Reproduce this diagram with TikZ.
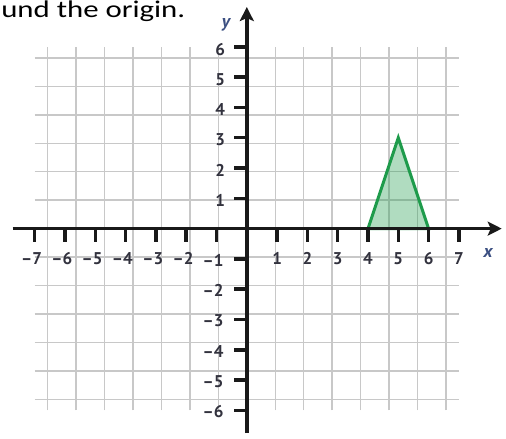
\documentclass[tikz,border=0pt]{standalone}
\usepackage{fontspec}
\setmainfont{Carlito}
\newfontfamily\lblfont{PT Sans}
\usetikzlibrary{arrows.meta}
\definecolor{gridgray}{RGB}{200,200,200}
\definecolor{axisblack}{RGB}{25,25,25}
\definecolor{lblcol}{RGB}{50,50,62}
\definecolor{varcol}{RGB}{60,80,130}
\definecolor{trigreen}{RGB}{30,155,75}
\begin{document}
\begin{tikzpicture}[x=30.3pt,y=30.3pt,
  gridline/.style={gridgray,line width=1.5pt},
  axisline/.style={axisblack,line width=3.5pt},
  tickmark/.style={axisblack,line width=3.5pt},
  ticklbl/.style={font=\lblfont\bfseries\fontsize{17}{17}\selectfont,text=lblcol,inner sep=0pt},
  varlbl/.style={font=\lblfont\bfseries\itshape\fontsize{18}{18}\selectfont,text=varcol,inner sep=0pt},
  toptext/.style={font=\fontsize{24}{24}\selectfont,inner sep=0pt,anchor=base west},
  tri/.style={fill=trigreen,fill opacity=0.35,draw=trigreen,line width=3pt,line join=miter},
  axarrow/.style={-{Stealth[length=14pt,width=14pt,inset=3pt]}}
]
\useasboundingbox (-8.145,-6.911) rectangle (8.554,7.545);
\node[toptext] (title) at (-8.11,6.983) {\resizebox{184pt}{\height}{und the origin.}};
% grid
\draw[gridline] (-7,-6) grid (7,6);
% triangle
\coordinate (A) at (4,0);
\coordinate (B) at (5,3);
\coordinate (C) at (6,0);
\filldraw[tri] (A) -- (B) -- (C) -- cycle;
% axes
\coordinate (xl) at (-7.726,0);
\coordinate (xr) at (8.413,0);
\coordinate (yb) at (0,-6.746);
\coordinate (yt) at (0,7.313);
\draw[axisline,axarrow] (xl) -- (xr);
\draw[axisline,axarrow] (yb) -- (yt);
% ticks and labels
\foreach \i in {1,...,7}{
  \draw[tickmark] (\i,0) -- (\i,-0.43);
  \node[ticklbl] (xp\i) at (\i,-0.98) {\i};
  \draw[tickmark] (-\i,0) -- (-\i,-0.43);
}
\foreach \i in {2,...,7}{
  \node[ticklbl] (xn\i) at (-\i+0.08,-0.98) {\llap{–}\i};
}
\foreach \j in {1,...,6}{
  \draw[tickmark] (0,\j) -- (-0.43,\j);
  \node[ticklbl] (yp\j) at (-0.88,\j-0.08) {\j};
  \draw[tickmark] (0,-\j) -- (-0.43,-\j);
  \node[ticklbl] (yn\j) at (-0.93,-\j-0.05) {\llap{–}\j};
}
\node[varlbl] (xlab) at (7.96,-0.80) {x};
\node[varlbl] (ylab) at (-0.69,6.72) {y};
\end{tikzpicture}
\end{document}
